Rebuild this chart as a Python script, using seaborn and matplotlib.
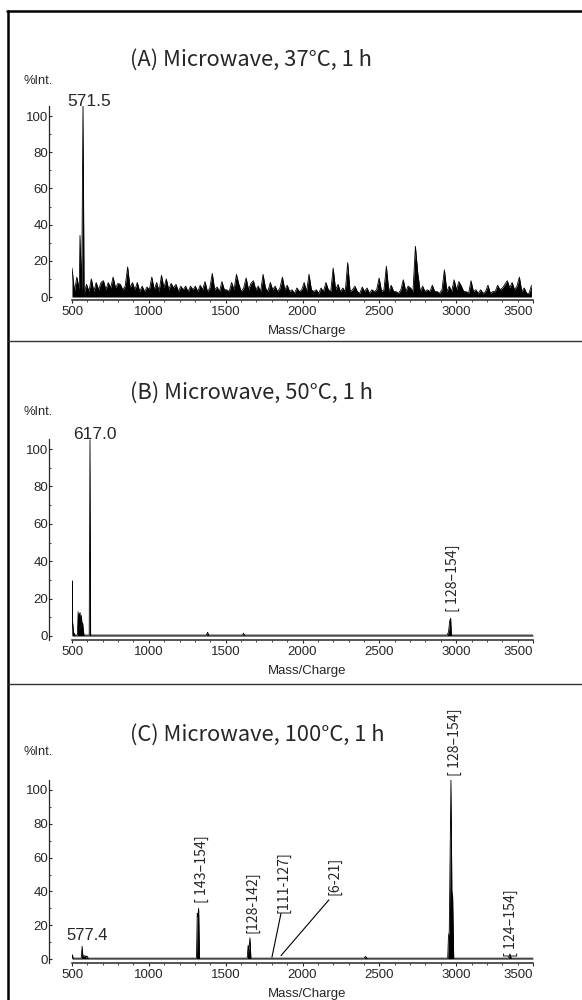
import numpy as np
import pandas as pd
import matplotlib
matplotlib.use('Agg')
import matplotlib.pyplot as plt
import seaborn as sb
from matplotlib.lines import Line2D
from matplotlib.ticker import MultipleLocator

# ---- data (m/z, %intensity) ----
# panel A: background noise on an even m/z grid from 500 to 3490
A_NOISE = [16, 3, 11, 4, 3, 2, 7, 3, 10, 3, 8, 4, 8, 9, 4, 8, 5, 11, 5, 7.5,
           7, 4, 6, 16.6, 5, 8, 4, 8, 3, 6, 3, 5.5, 4, 11, 4, 8, 3, 12, 5, 10,
           4, 7.5, 5, 7, 3, 6, 4, 6, 3, 6, 4, 6, 3, 6.5, 4, 8.5, 3, 5, 13, 4,
           5.5, 3, 8.5,
           4, 4, 3, 8, 4, 12.5, 7, 3, 5, 10.5, 4, 7.5, 9, 4, 6, 3, 12.5, 5, 3, 8,
           4, 6, 3, 5, 11, 4, 6.5, 3, 4, 2, 5, 3, 4, 8, 3, 12.5, 4, 3, 4, 2,
           5, 3, 8, 4, 3, 16, 4, 7, 3, 5, 3, 19, 3, 4, 6, 3, 2, 5.5, 3, 5,
           2, 4, 3, 4, 10.5, 3, 4, 17, 3, 6.5, 3, 3, 2, 4, 9.5, 3, 6, 5, 3, 28,
           13, 3, 6, 3, 4, 3, 6.5, 3, 3, 2, 4, 15, 3, 6, 3, 9.5, 4, 8.5, 6, 3,
           3, 2, 9, 3, 4, 2, 4, 2, 3, 6.5, 2, 3, 3, 6.5, 4, 5, 7, 9, 5, 8,
           4, 6, 11, 3, 5, 2, 2, 6.5]
A_NOISE_START, A_NOISE_END = 500, 3490
A_PEAK_MZ = [552, 571.5]
A_PEAK_INT = [34, 106]

# panel B
B_MZ = [500, 501, 503, 510, 520, 535, 540, 543, 547, 550, 553, 557, 561, 565,
        569, 574, 578, 612, 617, 621, 1375, 1382, 1389, 1610, 1616, 1622,
        2940, 2950, 2958, 2964, 2969, 3500]
B_INT = [0.5, 29.5, 8, 2, 0.5, 0.5, 13, 3, 12, 4, 12.5, 5, 11, 6,
         7, 3, 0.5, 0.5, 105, 0.5, 0.5, 2, 0.5, 0.5, 1.5, 0.5,
         0.5, 2, 8, 9.5, 0.5, 0.5]

# panel C
C_MZ = [500, 503, 507, 560, 566, 571, 585, 590, 596, 606, 612, 1310, 1315,
        1319, 1324, 1330, 1640, 1646, 1650, 1658, 1664, 2400, 2410, 2420,
        2945, 2950, 2955, 2966, 2972, 2977, 2984, 3340, 3350, 3358, 3500]
C_INT = [0.5, 2.5, 0.5, 0.5, 7.5, 1.5, 2, 0.5, 1.8, 0.5, 0.5, 0.5, 27,
         25, 30, 0.5, 0.5, 8, 5, 12.5, 0.5, 0.5, 1.5, 0.5,
         0.5, 14, 16, 106, 40, 37, 0.5, 0.5, 3, 0.5, 0.5]

TITLES = ['(A) Microwave, 37°C, 1 h', '(B) Microwave, 50°C, 1 h',
          '(C) Microwave, 100°C, 1 h']

sb.set_style('ticks')
plt.rcParams['font.family'] = ['Liberation Sans', 'DejaVu Sans']
KR = ['Noto Sans CJK KR', 'DejaVu Sans']

fig = plt.figure(figsize=(5.82, 10), dpi=100)

# panel boxes in pixels: axis bottom y, spine top y, zero y, px per %, title y, %Int y
panels = [
    dict(bottom=300, top=106, zero=297, per=1.81, title=60, unit=81),
    dict(bottom=640, top=439, zero=636, per=1.87, title=393, unit=412),
    dict(bottom=963, top=780, zero=959, per=1.69, title=735, unit=752),
]

a_mz = np.linspace(A_NOISE_START, A_NOISE_END, len(A_NOISE))
spectra = [
    (list(a_mz) + A_PEAK_MZ, list(A_NOISE) + A_PEAK_INT),
    (B_MZ, B_INT),
    (C_MZ, C_INT),
]

axes = []
for i, p in enumerate(panels):
    h = p['bottom'] - p['top']
    ax = fig.add_axes([72 / 582, 1 - p['bottom'] / 1000, 461 / 582, h / 1000])
    ymin = -(p['bottom'] - p['zero']) / p['per']
    ymax = (p['zero'] - p['top']) / p['per']

    mz, inten = spectra[i]
    df = pd.DataFrame({'mz': mz, 'inten': inten}).sort_values('mz')
    sb.lineplot(data=df, x='mz', y='inten', ax=ax, color='black', lw=0.6,
                estimator=None, sort=False)
    ax.fill_between(df['mz'], df['inten'], 0, color='black', lw=0)

    ax.set_xlim(500, 3500)
    ax.set_ylim(ymin, ymax)
    ax.spines['top'].set_visible(False)
    ax.spines['right'].set_visible(False)
    ax.spines['left'].set_position(('outward', 16.6))
    ax.spines['left'].set_linewidth(0.9)
    ax.spines['bottom'].set_linewidth(1.1)

    ax.set_xticks([500, 1000, 1500, 2000, 2500, 3000, 3500])
    ax.xaxis.set_minor_locator(MultipleLocator(100))
    ax.set_yticks([0, 20, 40, 60, 80, 100])
    ax.yaxis.set_minor_locator(MultipleLocator(10))
    ax.tick_params(axis='x', which='major', length=2.5, width=0.8, pad=1.5,
                   labelsize=9.5, direction='out')
    ax.tick_params(axis='x', which='minor', length=1.5, width=0.6, direction='out')
    ax.tick_params(axis='y', which='major', length=2, width=0.8, pad=0.5,
                   labelsize=9.5, direction='in')
    ax.tick_params(axis='y', which='minor', length=1.2, width=0.6, direction='in')
    ax.get_xticklabels()[-1].set_horizontalalignment('right')

    ax.set_xlabel('Mass/Charge', fontsize=9.5, va='center')
    ax.xaxis.set_label_coords(0.511, -(331 - 300) / h)
    ax.set_ylabel('')

    fig.text(130 / 582, 1 - p['title'] / 1000, TITLES[i], ha='left', va='center',
             fontsize=15.8, family=KR)
    fig.text(23 / 582, 1 - p['unit'] / 1000, '%Int.', ha='left', va='center',
             fontsize=9.3)
    axes.append(ax)

axA, axB, axC = axes

# peak labels
axA.text(614, 105.3, '571.5', ha='center', va='baseline', fontsize=12.5)
axB.text(650, 105.3, '617.0', ha='center', va='baseline', fontsize=12.5)
axC.text(596, 11.2, '577.4', ha='center', va='baseline', fontsize=12)

lab = dict(rotation=90, ha='center', va='bottom', fontsize=10.2, family=KR)
axB.text(2979, 12.8, '[ 128–154]', **lab)
axC.text(1346, 33, '[ 143–154]', **lab)
axC.text(1671, 15.4, '[128-142]', **lab)
axC.text(1873, 27, '[111-127]', **lab)
axC.text(2211, 38, '[6-21]', **lab)
axC.text(2992, 108, '[ 128–154]', **lab)
axC.text(3357, 1, '[ 124–154]', **lab)
axC.plot([1801, 1860], [1, 27], color='black', lw=0.8)
axC.plot([1860, 2172], [2, 35], color='black', lw=0.8)

# frame lines of the composite figure
fig.add_artist(Line2D([7 / 582, 1], [1 - 11 / 1000] * 2, color='black', lw=1.8))
fig.add_artist(Line2D([8 / 582] * 2, [0, 1 - 11 / 1000], color='black', lw=1.8))
for ys in (340.5, 683.5):
    fig.add_artist(Line2D([8 / 582, 1], [1 - ys / 1000] * 2, color='#333333', lw=1.0))

fig.savefig('out.png', dpi=100)
